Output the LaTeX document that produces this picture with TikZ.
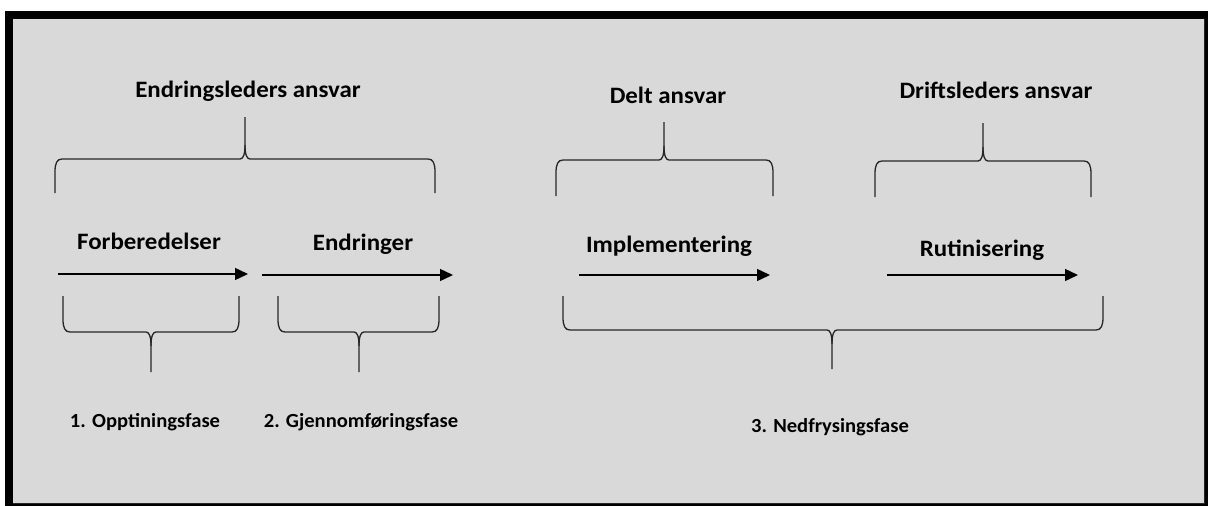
\documentclass[tikz,border=0pt]{standalone}
\usepackage{fontspec}
\setmainfont{Carlito}
\newfontfamily\headfont[FakeStretch=1.06]{Carlito}
\newfontfamily\fasefont[FakeStretch=1.03]{Carlito}
\usetikzlibrary{arrows.meta}
\definecolor{panel}{HTML}{D9D9D9}
\definecolor{ink}{HTML}{262626}

% curly brace: #1 left x, #2 right x, #3 tip x, #4 leg end y, #5 bar y, #6 tip end y, #7 side of the legs (+1 below bar, -1 above)
\newcommand{\phasebrace}[7]{%
  \draw[brace] (#1,#4) -- (#1,{#5+(#7)*13})
    .. controls (#1,{#5+(#7)*4}) and ({#1+2},#5) .. ({#1+7},#5)
    -- ({#3-5},#5)
    .. controls ({#3-2},#5) and (#3,{#5-(#7)*4}) .. (#3,{#5-(#7)*14})
    -- (#3,#6);
  \draw[brace] (#2,#4) -- (#2,{#5+(#7)*13})
    .. controls (#2,{#5+(#7)*4}) and ({#2-2},#5) .. ({#2-7},#5)
    -- ({#3+5},#5)
    .. controls ({#3+2},#5) and (#3,{#5-(#7)*4}) .. (#3,{#5-(#7)*14});
}

\begin{document}
\begin{tikzpicture}[x=1pt,y=-1pt,
  brace/.style={draw=ink, line width=1.3pt},
  flow/.style={draw=black, line width=1.4pt, -{Triangle[length=13pt,width=12pt]}},
  head/.style={font=\headfont\fontsize{23.5}{28}\selectfont\bfseries, text=black, inner sep=0, anchor=base},
  fase/.style={font=\fasefont\fontsize{20}{24}\selectfont\bfseries, text=black, inner sep=0, anchor=base}]

  % page and framed panel
  \useasboundingbox (0,0) rectangle (1208,506);
  \fill[white] (0,0) rectangle (1208,506);
  \fill[black] (5,11) rectangle (1208,506);
  \fill[panel] (13,19) rectangle (1204,503);
  \draw[ink, line width=0.8pt] (13,503.4) -- (1204.4,503.4) -- (1204.4,19);

  % responsibility headings
  \node[head] (endringsleder) at (248,97) {Endringsleders ansvar};
  \node[head] (delt) at (668,103) {Delt ansvar};
  \node[head] (driftsleder) at (996,98) {Driftsleders ansvar};

  % braces under the headings
  \phasebrace{55}{435}{245}{193}{159}{117}{1}
  \phasebrace{556}{773}{664}{196}{160}{122}{1}
  \phasebrace{875}{1091}{983}{197}{161}{123}{1}

  % activities
  \node[head] (forb) at (149,249) {Forberedelser};
  \node[head] (endr) at (363,250) {Endringer};
  \node[head] (impl) at (669,252) {Implementering};
  \node[head] (rutin) at (982,256) {Rutinisering};

  \coordinate (f1) at (58,274);  \coordinate (f2) at (248,274);
  \coordinate (e1) at (262,275); \coordinate (e2) at (453,275);
  \coordinate (i1) at (579,275); \coordinate (i2) at (770,275);
  \coordinate (r1) at (887,275); \coordinate (r2) at (1078,275);
  \draw[flow] (f1) -- (f2);
  \draw[flow] (e1) -- (e2);
  \draw[flow] (i1) -- (i2);
  \draw[flow] (r1) -- (r2);

  % braces over the phases
  \phasebrace{63}{239}{151}{296}{332}{372}{-1}
  \phasebrace{278}{439}{359}{296}{332}{372}{-1}
  \phasebrace{563}{1103}{832}{296}{330}{369}{-1}

  % phases
  \node[fase] (fase1) at (145,427) {1. Opptiningsfase};
  \node[fase] (fase2) at (361,427) {2. Gjennomføringsfase};
  \node[fase] (fase3) at (830,432) {3. Nedfrysingsfase};
\end{tikzpicture}
\end{document}
